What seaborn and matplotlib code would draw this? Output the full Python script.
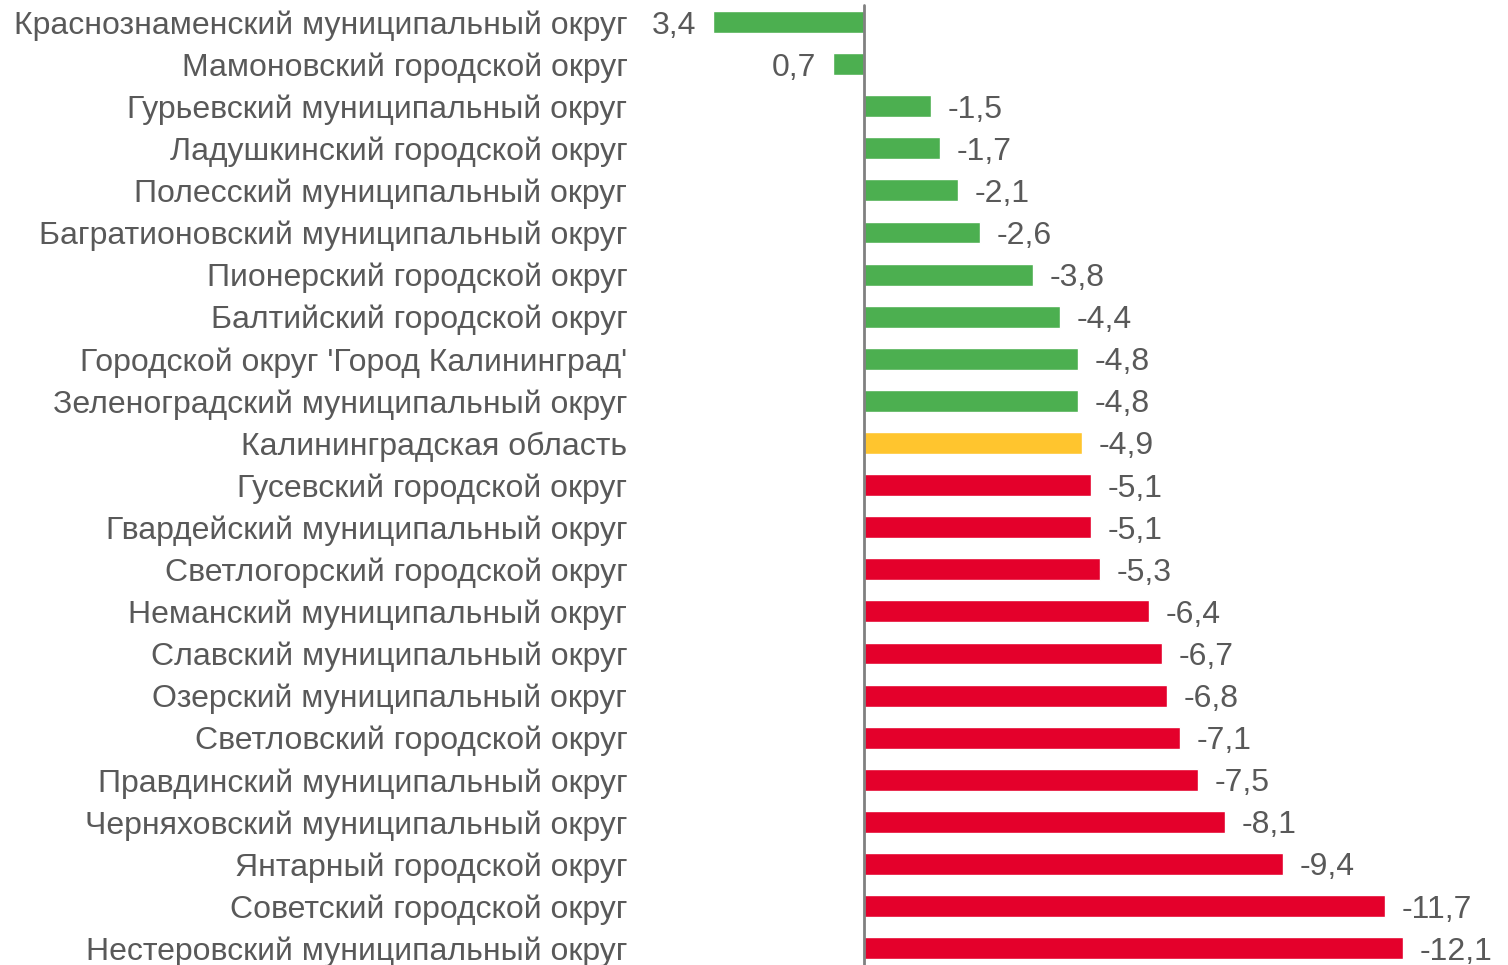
import pandas as pd
import matplotlib
matplotlib.use("Agg")
import matplotlib.pyplot as plt
import seaborn as sns

regions = [
    "Краснознаменский муниципальный округ",
    "Мамоновский городской округ",
    "Гурьевский муниципальный округ",
    "Ладушкинский городской округ",
    "Полесский муниципальный округ",
    "Багратионовский муниципальный округ",
    "Пионерский городской округ",
    "Балтийский городской округ",
    "Городской округ 'Город Калининград'",
    "Зеленоградский муниципальный округ",
    "Калининградская область",
    "Гусевский городской округ",
    "Гвардейский муниципальный округ",
    "Светлогорский городской округ",
    "Неманский муниципальный округ",
    "Славский муниципальный округ",
    "Озерский муниципальный округ",
    "Светловский городской округ",
    "Правдинский муниципальный округ",
    "Черняховский муниципальный округ",
    "Янтарный городской округ",
    "Советский городской округ",
    "Нестеровский муниципальный округ",
]
values = [3.4, 0.7, -1.5, -1.7, -2.1, -2.6, -3.8, -4.4, -4.8, -4.8, -4.9,
          -5.1, -5.1, -5.3, -6.4, -6.7, -6.8, -7.1, -7.5, -8.1, -9.4, -11.7, -12.1]
groups = ["выше"] * 10 + ["область"] + ["ниже"] * 12

palette = {"выше": "#4CAF50", "область": "#FFC52E", "ниже": "#E4002B"}
text_color = "#595959"

df = pd.DataFrame({"region": regions, "value": values, "group": groups})

sns.set_style("white")
plt.rcParams["font.family"] = ["Liberation Sans", "DejaVu Sans"]

fig = plt.figure(figsize=(15.08, 9.65), dpi=100)
ax = fig.add_axes([640 / 1508, 0.0, 860 / 1508, 1.0])

sns.barplot(data=df, x="value", y="region", hue="group", palette=palette,
            dodge=False, legend=False, width=0.52, saturation=1, ax=ax, orient="h")

ax.set_xlim(5.03, -14.28)
ax.set_ylim(22.40, -0.523)
ax.axvline(0, color="#808080", lw=2, ymin=0, ymax=0.995)

for i, v in enumerate(values):
    lab = f"{v:.1f}".replace(".", ",")
    off = -12 if v > 0 else 12
    ax.annotate(lab, xy=(v, i), xytext=(off, 0), textcoords="offset points",
                ha="right" if v > 0 else "left", va="center_baseline",
                fontsize=23, color=text_color)

ax.set_xlabel("")
ax.set_ylabel("")
ax.set_xticks([])
ax.tick_params(axis="y", length=0, pad=9, labelsize=23, labelcolor=text_color)
for t in ax.get_yticklabels():
    t.set_verticalalignment("center_baseline")
for s in ax.spines.values():
    s.set_visible(False)

fig.savefig("out.png", dpi=100)
